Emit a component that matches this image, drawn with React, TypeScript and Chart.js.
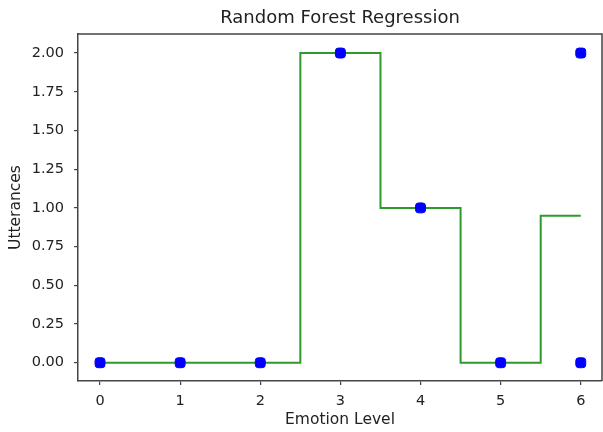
import React, { useEffect, useRef } from "react";
import { Chart, registerables } from "chart.js";

Chart.register(...registerables);

const chartTitle = "Random Forest Regression";
const xAxisLabel = "Emotion Level";
const yAxisLabel = "Utterances";

// observed data (blue squares)
const emotionLevels = [0, 1, 2, 3, 4, 5, 6, 6];
const utterances = [0, 0, 0, 2, 1, 0, 2, 0];

// random forest prediction (green step line)
const predX = [0, 2.5, 2.5, 3.5, 3.5, 4.5, 4.5, 5.5, 5.5, 6];
const predY = [0, 0, 2, 2, 1, 1, 0, 0, 0.95, 0.95];

const xTicks = [0, 1, 2, 3, 4, 5, 6];
const yTicks = [0, 0.25, 0.5, 0.75, 1.0, 1.25, 1.5, 1.75, 2.0];

const FONT = "'DejaVu Sans', sans-serif";
const TEXT = "#222";
const AXIS = "#444";

const framePlugin = {
  id: "frame",
  afterDraw(chart: any) {
    const { ctx, chartArea } = chart;
    ctx.save();
    ctx.strokeStyle = AXIS;
    ctx.lineWidth = 1.5;
    ctx.beginPath();
    ctx.moveTo(chartArea.left, chartArea.top);
    ctx.lineTo(chartArea.right, chartArea.top);
    ctx.lineTo(chartArea.right, chartArea.bottom);
    ctx.stroke();
    ctx.fillStyle = TEXT;
    ctx.font = `18px ${FONT}`;
    ctx.textAlign = "center";
    ctx.textBaseline = "middle";
    ctx.fillText(chartTitle, (chartArea.left + chartArea.right) / 2, 18);
    ctx.restore();
  },
};

export default function App() {
  const ref = useRef<HTMLCanvasElement>(null);
  useEffect(() => {
    document.body.style.margin = "0";
    const chart = new Chart(ref.current!, {
      type: "scatter",
      data: {
        datasets: [
          {
            label: "Observed",
            data: emotionLevels.map((x, i) => ({ x, y: utterances[i] })),
            backgroundColor: "#0000ff",
            borderColor: "#0000ff",
            pointStyle: "rectRounded",
            pointRadius: 5.8,
            showLine: false,
          },
          {
            label: "Prediction",
            data: predX.map((x, i) => ({ x, y: predY[i] })),
            showLine: true,
            borderColor: "#2e9a2e",
            borderWidth: 2,
            pointRadius: 0,
            fill: false,
          },
        ],
      } as any,
      options: {
        animation: false,
        responsive: false,
        layout: { autoPadding: false, padding: { top: 34, right: 1, left: 0, bottom: 0 } },
        plugins: {
          legend: { display: false },
          tooltip: { enabled: false },
          title: { display: false },
        },
        scales: {
          x: {
            type: "linear",
            min: -0.275,
            max: 6.265,
            afterFit: (s: any) => {
              s.height = 51;
              s.paddingLeft = 0;
              s.paddingRight = 0;
            },
            afterBuildTicks: (s: any) => {
              s.ticks = xTicks.map((v) => ({ value: v }));
            },
            ticks: {
              color: TEXT,
              font: { family: FONT, size: 14.5 },
              padding: 8,
              callback: (v: any) => String(v),
            },
            grid: {
              drawOnChartArea: false,
              drawTicks: true,
              tickLength: 4,
              color: AXIS,
              lineWidth: 1.2,
            },
            border: { display: true, color: AXIS, width: 1.5 },
            title: {
              display: true,
              text: xAxisLabel,
              color: TEXT,
              font: { family: FONT, size: 15.5, lineHeight: 1.2 },
              padding: { top: 0, bottom: 3 },
            },
          },
          y: {
            type: "linear",
            min: -0.118,
            max: 2.123,
            afterFit: (s: any) => {
              s.width = 78;
              s.paddingTop = 0;
              s.paddingBottom = 0;
            },
            afterBuildTicks: (s: any) => {
              s.ticks = yTicks.map((v) => ({ value: v }));
            },
            ticks: {
              color: TEXT,
              font: { family: FONT, size: 14.5 },
              padding: 10,
              callback: (v: any) => Number(v).toFixed(2),
            },
            grid: {
              drawOnChartArea: false,
              drawTicks: true,
              tickLength: 4,
              color: AXIS,
              lineWidth: 1.2,
            },
            border: { display: true, color: AXIS, width: 1.5 },
            title: {
              display: true,
              text: yAxisLabel,
              color: TEXT,
              font: { family: FONT, size: 15.5, lineHeight: 1.2 },
              padding: { top: 7, bottom: 0 },
            },
          },
        },
      } as any,
      plugins: [framePlugin],
    });
    return () => chart.destroy();
  }, []);
  return (
    <div style={{ width: 603, height: 432 }}>
      <canvas ref={ref} width={603} height={432} style={{ display: "block" }} />
    </div>
  );
}
